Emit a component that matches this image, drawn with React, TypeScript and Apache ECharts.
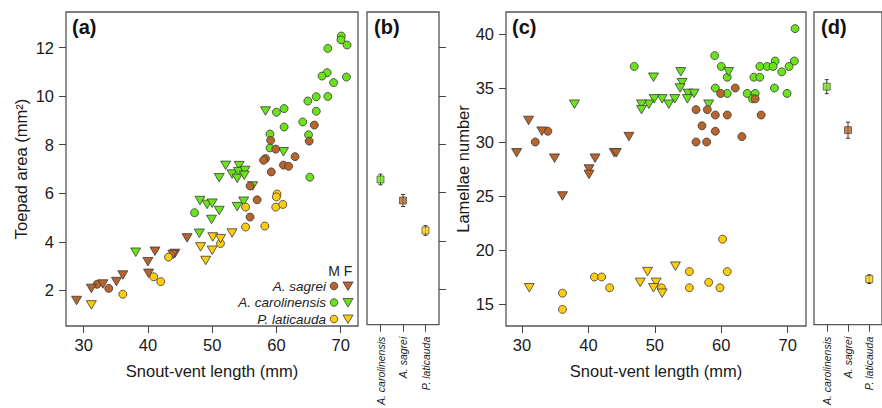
import React, { useEffect, useRef } from "react";
import * as echarts from "echarts";

const BROWN = "#B8652B";
const GREEN = "#6BE31B";
const YELLOW = "#FFCB0D";
const EDGE = "#3a3a3a";
const FONT = "Liberation Sans, Arial, sans-serif";

// Panel (a): toepad area vs SVL  [SVL (mm), toepad area (mm^2)]
const sagreiM_a = [[65.9, 8.81], [65.1, 8.15], [59.1, 8.18], [59.9, 7.82], [62.9, 7.51], [58.3, 7.43], [58.0, 7.36], [61.1, 7.16], [61.9, 7.11], [59.2, 6.88], [55.9, 6.3], [57.0, 5.73], [55.9, 5.02], [32.1, 2.25], [33.9, 2.08]];
const sagreiF_a = [[46.1, 4.16], [41.1, 3.61], [44.2, 3.52], [43.9, 3.48], [40.0, 3.18], [40.1, 2.7], [36.1, 2.63], [35.1, 2.36], [33.0, 2.26], [31.2, 2.08], [28.9, 1.58]];
const carolM_a = [[70.1, 12.48], [70.05, 12.32], [71.0, 12.11], [68.0, 11.97], [67.9, 10.97], [67.1, 10.83], [68.9, 10.56], [70.9, 10.79], [66.2, 9.98], [68.0, 9.99], [64.9, 9.8], [66.2, 9.38], [61.2, 9.49], [60.0, 9.34], [64.1, 8.94], [61.2, 8.73], [59.0, 8.44], [65.0, 8.41], [59.0, 7.87], [65.2, 6.66], [47.25, 5.2]];
const carolF_a = [[58.3, 9.39], [61.1, 7.71], [52.1, 7.15], [54.2, 7.14], [51.1, 6.64], [53.1, 6.79], [54.1, 6.89], [55.1, 6.94], [53.9, 6.61], [55.0, 6.74], [56.3, 6.3], [48.1, 5.7], [49.2, 5.54], [50.0, 5.59], [51.1, 5.29], [49.9, 4.92], [53.9, 5.45], [54.9, 5.67], [48.0, 4.35], [38.1, 3.57]];
const latM_a = [[60.1, 5.97], [60.0, 5.85], [59.9, 5.43], [61.0, 5.54], [55.2, 5.43], [55.2, 4.61], [58.2, 4.65], [51.3, 3.93], [43.2, 3.37], [40.9, 2.56], [42.0, 2.36], [36.1, 1.84]];
const latF_a = [[50.1, 4.2], [51.3, 4.13], [53.1, 4.36], [48.2, 3.79], [50.0, 3.65], [49.0, 3.23], [31.2, 1.4]];

// Panel (c): lamellae number vs SVL
const sagreiM_c = [[62.1, 35], [59.9, 34.5], [65.1, 34], [56.2, 33], [57.9, 33], [59.1, 32.5], [60.9, 32.5], [66.0, 32.5], [57.1, 31.5], [59.1, 31], [63.1, 30.5], [56.2, 30], [57.8, 30], [32.0, 30], [33.9, 31]];
const sagreiF_c = [[31.0, 32], [29.2, 29], [33.0, 31], [34.9, 28.5], [36.1, 25], [40.1, 27.5], [40.1, 27], [41.0, 28.5], [43.9, 29], [44.2, 29], [46.1, 30.5]];
const carolM_c = [[71.1, 40.5], [71.0, 37.5], [70.2, 37], [68.1, 37.5], [66.9, 37], [67.8, 37], [65.8, 37], [69.1, 36.5], [64.9, 36], [65.8, 36], [68.0, 35], [69.9, 34.5], [63.9, 34.5], [65.1, 34.5], [64.7, 34], [59.0, 38], [60.0, 37], [60.9, 36], [59.1, 35], [60.9, 34.5], [46.9, 37]];
const carolF_c = [[61.1, 36.5], [53.9, 36.5], [54.1, 35.5], [53.8, 35], [49.8, 36], [55.0, 34.5], [55.9, 34.5], [54.9, 34], [53.0, 34], [51.1, 34], [49.9, 34], [52.1, 33.5], [49.1, 33.5], [48.0, 33.5], [48.0, 33], [58.1, 33.5], [37.9, 33.5]];
const latM_c = [[60.2, 21], [60.9, 18], [55.2, 18], [40.9, 17.5], [42.0, 17.5], [58.1, 17], [43.2, 16.5], [55.2, 16.5], [59.8, 16.5], [51.0, 16.5], [36.1, 16], [36.1, 14.5]];
const latF_c = [[31.1, 16.5], [53.1, 18.5], [48.9, 18], [47.8, 17], [50.2, 17], [49.8, 16.5], [51.1, 16]];

// Panels (b) and (d): species means with error bars
const speciesNames = ["A. carolinensis", "A. sagrei", "P. laticauda"];
const speciesColors = [GREEN, BROWN, YELLOW];
const toepadMean = [6.54, 5.67, 4.43];
const toepadErr = [0.22, 0.25, 0.2];
const lamellaeMean = [35.1, 31.05, 17.2];
const lamellaeErr = [0.65, 0.75, 0.4];

// Tick values
const svlTicks = [30, 40, 50, 60, 70];
const toepadTicks = [2, 4, 6, 8, 10, 12];
const lamellaeTicks = [15, 20, 25, 30, 35, 40];
const speciesTicks = [1, 2, 3];

const legendRows = [
  { name: "A. sagrei", color: BROWN },
  { name: "A. carolinensis", color: GREEN },
  { name: "P. laticauda", color: YELLOW },
];

const tickStyle = { show: true, length: 7, lineStyle: { color: "#444", width: 1 } };
const labelStyle = { fontSize: 16.5, color: "#1a1a1a", fontFamily: FONT };

function svlAxis(gridIndex: number, min: number, max: number) {
  return {
    gridIndex, type: "value", min, max,
    axisLine: { show: false },
    axisTick: { ...tickStyle, customValues: svlTicks },
    axisLabel: { ...labelStyle, margin: 10, customValues: svlTicks },
    splitLine: { show: false },
    name: "Snout-vent length (mm)", nameLocation: "middle", nameGap: 36,
    nameTextStyle: { fontSize: 16.5, color: "#1a1a1a", fontFamily: FONT },
  };
}
function speciesAxis(gridIndex: number) {
  return {
    gridIndex, type: "value", min: 0.4, max: 3.6,
    axisLine: { show: false },
    axisTick: { ...tickStyle, customValues: speciesTicks },
    axisLabel: {
      customValues: speciesTicks, rotate: 90, fontSize: 10.5, fontStyle: "italic", color: "#1a1a1a", fontFamily: FONT, margin: 12,
      formatter: (v: number) => speciesNames[Math.round(v) - 1] || "",
    },
    splitLine: { show: false },
  };
}
function yAxisDef(gridIndex: number, min: number, max: number, ticks: number[], right: boolean, name?: string, nameGap?: number) {
  return {
    gridIndex, type: "value", min, max, position: right ? "right" : "left",
    axisLine: { show: false },
    axisTick: { ...tickStyle, customValues: ticks },
    axisLabel: right ? { show: false } : { ...labelStyle, margin: 12, customValues: ticks },
    splitLine: { show: false },
    name: name || "", nameLocation: "middle", nameGap: nameGap || 0,
    nameTextStyle: { fontSize: 16.5, color: "#1a1a1a", fontFamily: FONT },
  };
}

function scatter(data: number[][], color: string, tri: boolean, xi: number) {
  return {
    type: "scatter", xAxisIndex: xi, yAxisIndex: xi, data,
    symbol: tri ? "triangle" : "circle",
    symbolSize: tri ? [10, 8.5] : 8,
    symbolRotate: tri ? 180 : 0,
    itemStyle: { color, borderColor: EDGE, borderWidth: 0.8, opacity: 1 },
    silent: true,
  };
}

function errorBars(means: number[], errs: number[], xi: number) {
  return {
    type: "custom", xAxisIndex: xi, yAxisIndex: xi,
    data: means.map((m, i) => [i + 1, m - errs[i], m + errs[i]]),
    renderItem: (_p: any, api: any) => {
      const lo = api.coord([api.value(0), api.value(1)]);
      const hi = api.coord([api.value(0), api.value(2)]);
      const st = { stroke: "#333", lineWidth: 1 };
      return {
        type: "group",
        children: [
          { type: "line", shape: { x1: lo[0], y1: lo[1], x2: hi[0], y2: hi[1] }, style: st },
          { type: "line", shape: { x1: lo[0] - 2, y1: lo[1], x2: lo[0] + 2, y2: lo[1] }, style: st },
          { type: "line", shape: { x1: hi[0] - 2, y1: hi[1], x2: hi[0] + 2, y2: hi[1] }, style: st },
        ],
      };
    },
    z: 1,
  };
}
function meanPoints(means: number[], xi: number) {
  return {
    type: "scatter", xAxisIndex: xi, yAxisIndex: xi,
    data: means.map((m, i) => ({ value: [i + 1, m], itemStyle: { color: speciesColors[i] } })),
    symbol: "rect", symbolSize: 7,
    itemStyle: { borderColor: EDGE, borderWidth: 0.8 },
    z: 3, silent: true,
  };
}

function panelLabel(text: string, x: number) {
  return { type: "text", left: x, top: 17, style: { text, fontSize: 20, fontWeight: "bold", fill: "#111", fontFamily: FONT } };
}

export default function App() {
  const ref = useRef<HTMLDivElement>(null);
  useEffect(() => {
    const chart = echarts.init(ref.current!, null, { renderer: "svg" });
    const legendGraphics: any[] = [
      { type: "text", x: 334, y: 271, style: { text: "M", fontSize: 14, fill: "#222", fontFamily: FONT, align: "center", verticalAlign: "middle" } },
      { type: "text", x: 348, y: 271, style: { text: "F", fontSize: 14, fill: "#222", fontFamily: FONT, align: "center", verticalAlign: "middle" } },
    ];
    legendRows.forEach((r, i) => {
      const y = 286 + i * 16.5;
      legendGraphics.push(
        { type: "text", x: 326, y, style: { text: r.name, fontSize: 13.5, fontStyle: "italic", fill: "#222", fontFamily: FONT, align: "right", verticalAlign: "middle" } },
        { type: "circle", shape: { cx: 334, cy: y, r: 3.8 }, style: { fill: r.color, stroke: EDGE, lineWidth: 0.8 } },
        { type: "polygon", shape: { points: [[343, y - 4], [353, y - 4], [348, y + 4.5]] }, style: { fill: r.color, stroke: EDGE, lineWidth: 0.8 } },
      );
    });
    const option: any = {
      animation: false,
      backgroundColor: "#fff",
      grid: [
        { left: 66, top: 12, width: 292, height: 314, show: true, borderColor: "#555", borderWidth: 1.3, containLabel: false },
        { left: 367, top: 12, width: 72, height: 314, show: true, borderColor: "#555", borderWidth: 1.3, containLabel: false },
        { left: 506, top: 12, width: 300, height: 314, show: true, borderColor: "#555", borderWidth: 1.3, containLabel: false },
        { left: 814, top: 12, width: 72, height: 314, show: true, borderColor: "#555", borderWidth: 1.3, containLabel: false },
      ],
      xAxis: [
        svlAxis(0, 27.25, 72.7),
        speciesAxis(1),
        svlAxis(2, 27.6, 72.75),
        speciesAxis(3),
      ],
      yAxis: [
        yAxisDef(0, 0.53, 13.47, toepadTicks, false, "Toepad area (mm²)", 37),
        yAxisDef(1, 0.53, 13.47, toepadTicks, true),
        yAxisDef(2, 12.96, 42.04, lamellaeTicks, false, "Lamellae number", 32),
        yAxisDef(3, 12.96, 42.04, lamellaeTicks, true),
      ],
      series: [
        scatter(carolM_a, GREEN, false, 0),
        scatter(carolF_a, GREEN, true, 0),
        scatter(sagreiM_a, BROWN, false, 0),
        scatter(sagreiF_a, BROWN, true, 0),
        scatter(latM_a, YELLOW, false, 0),
        scatter(latF_a, YELLOW, true, 0),
        errorBars(toepadMean, toepadErr, 1),
        meanPoints(toepadMean, 1),
        scatter(carolM_c, GREEN, false, 2),
        scatter(carolF_c, GREEN, true, 2),
        scatter(sagreiM_c, BROWN, false, 2),
        scatter(sagreiF_c, BROWN, true, 2),
        scatter(latM_c, YELLOW, false, 2),
        scatter(latF_c, YELLOW, true, 2),
        errorBars(lamellaeMean, lamellaeErr, 3),
        meanPoints(lamellaeMean, 3),
      ],
      graphic: [
        panelLabel("(a)", 72),
        panelLabel("(b)", 374),
        panelLabel("(c)", 512),
        panelLabel("(d)", 821),
        ...legendGraphics,
      ],
    };
    chart.setOption(option);
    return () => chart.dispose();
  }, []);
  return <div ref={ref} style={{ position: "fixed", left: 0, top: 0, width: 882, height: 408, background: "#fff" }} />;
}
